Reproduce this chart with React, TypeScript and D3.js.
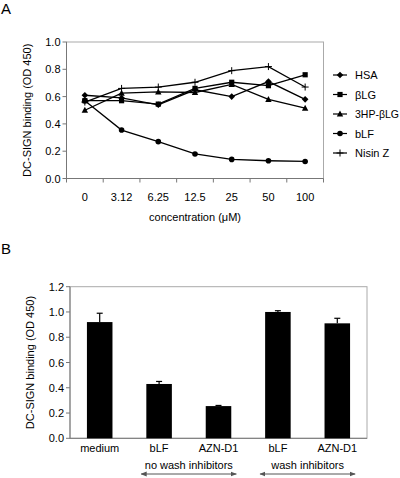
import React from "react";
import * as d3 from "d3";

const concentrations = ["0", "3.12", "6.25", "12.5", "25", "50", "100"];
const seriesNames = ["HSA", "βLG", "3HP-βLG", "bLF", "Nisin Z"];
const markerTypes = ["diamond", "square", "triangle", "circle", "plus"];
const hsa = [0.61, 0.59, 0.54, 0.65, 0.6, 0.71, 0.58];
const blg = [0.57, 0.57, 0.545, 0.66, 0.705, 0.68, 0.76];
const hpblg = [0.5, 0.625, 0.635, 0.63, 0.69, 0.58, 0.515];
const blf = [0.57, 0.355, 0.27, 0.18, 0.14, 0.13, 0.125];
const nisin = [0.56, 0.66, 0.67, 0.705, 0.79, 0.82, 0.67];
const seriesValues = [hsa, blg, hpblg, blf, nisin];
const yTicksA = [0, 0.2, 0.4, 0.6, 0.8, 1.0];

const barCategories = ["medium", "bLF", "AZN-D1", "bLF ", "AZN-D1 "];
const barLabels = ["medium", "bLF", "AZN-D1", "bLF", "AZN-D1"];
const barValues = [0.92, 0.43, 0.255, 1.0, 0.91];
const barErrors = [0.07, 0.02, 0.005, 0.01, 0.04];
const yTicksB = [0, 0.2, 0.4, 0.6, 0.8, 1.0, 1.2];
const groupLabels = ["no wash inhibitors", "wash inhibitors"];
const groupSpans = [["bLF", "AZN-D1"], ["bLF ", "AZN-D1 "]];

const FONT = "Liberation Sans, Arial, sans-serif";

function Marker({ type, x, y }: { type: string; x: number; y: number }) {
  if (type === "diamond") {
    const s = 3.3;
    return <path d={`M${x},${y - s}L${x + s},${y}L${x},${y + s}L${x - s},${y}Z`} fill="#000" />;
  }
  if (type === "square") return <rect x={x - 2.6} y={y - 2.6} width={5.2} height={5.2} fill="#000" />;
  if (type === "triangle") {
    return <path d={`M${x},${y - 3.4}L${x + 3.2},${y + 2.6}L${x - 3.2},${y + 2.6}Z`} fill="#000" />;
  }
  if (type === "circle") return <circle cx={x} cy={y} r={2.8} fill="#000" />;
  return (
    <path d={`M${x - 3.5},${y}L${x + 3.5},${y}M${x},${y - 3.5}L${x},${y + 3.5}`} stroke="#000" strokeWidth={1} />
  );
}

export default function App() {
  const aL = 66.5, aR = 323.5, aT = 42, aB = 178.5;
  const xA = d3.scaleBand().domain(concentrations).range([aL, aR]).padding(0);
  const yA = d3.scaleLinear().domain([0, 1]).range([aB, aT]);
  const line = d3
    .line<number>()
    .x((_, i) => (xA(concentrations[i]) as number) + xA.bandwidth() / 2)
    .y((d) => yA(d));

  const bL = 70, bR = 367, bT = 286.7, bB = 438.3;
  const xB = d3.scaleBand().domain(barCategories).range([bL, bR]).padding(0);
  const yB = d3.scaleLinear().domain([0, 1.2]).range([bB, bT]);
  const barW = xB.bandwidth() * 0.43;

  const axisColor = "#777";
  const boxColor = "#aaa";

  return (
    <svg width={400} height={478} style={{ position: "absolute", left: 0, top: 0, background: "#fff" }} fontFamily={FONT}>
      <rect x={0} y={0} width={400} height={478} fill="#fff" />
      <text x={1} y={14} fontSize={15}>A</text>
      <text x={1} y={254} fontSize={15}>B</text>

      <rect x={aL} y={aT} width={aR - aL} height={aB - aT} fill="none" stroke={boxColor} strokeWidth={1} />
      <line x1={aL} x2={aL} y1={aT} y2={aB} stroke={axisColor} />
      <line x1={aL} x2={aR} y1={aB} y2={aB} stroke={axisColor} />
      {yTicksA.map((t) => (
        <g key={t}>
          <line x1={aL - 4} x2={aL} y1={yA(t)} y2={yA(t)} stroke={axisColor} />
          <text x={aL - 6} y={yA(t) + 4} fontSize={11} textAnchor="end">{t.toFixed(1)}</text>
        </g>
      ))}
      {concentrations.map((c) => (
        <g key={c}>
          <line x1={xA(c) as number} x2={xA(c) as number} y1={aB} y2={aB + 4} stroke={axisColor} />
          <text x={(xA(c) as number) + xA.bandwidth() / 2} y={201} fontSize={11} textAnchor="middle">{c}</text>
        </g>
      ))}
      <line x1={aR} x2={aR} y1={aB} y2={aB + 4} stroke={axisColor} />
      <text x={(aL + aR) / 2} y={221} fontSize={11} textAnchor="middle">concentration (μM)</text>
      <text transform={`translate(31,${(aT + aB) / 2}) rotate(-90)`} fontSize={11} textAnchor="middle">DC-SIGN binding (OD 450)</text>
      {seriesValues.map((vals, si) => (
        <g key={si}>
          <path d={line(vals) || ""} fill="none" stroke="#000" strokeWidth={1.3} />
          {vals.map((v, i) => (
            <Marker key={i} type={markerTypes[si]} x={(xA(concentrations[i]) as number) + xA.bandwidth() / 2} y={yA(v)} />
          ))}
        </g>
      ))}
      {seriesNames.map((n, i) => {
        const ly = 75 + i * 19.5;
        return (
          <g key={n}>
            <line x1={333} x2={347} y1={ly} y2={ly} stroke="#000" strokeWidth={1.2} />
            <Marker type={markerTypes[i]} x={340} y={ly} />
            <text x={355} y={ly + 4} fontSize={11} textLength={n === "3HP-βLG" ? 44 : undefined} lengthAdjust="spacingAndGlyphs">{n}</text>
          </g>
        );
      })}

      <rect x={bL} y={bT} width={bR - bL} height={bB - bT} fill="none" stroke={boxColor} strokeWidth={1} />
      <line x1={bL} x2={bL} y1={bT} y2={bB} stroke={axisColor} />
      <line x1={bL} x2={bR} y1={bB} y2={bB} stroke={axisColor} />
      {yTicksB.map((t) => (
        <g key={t}>
          <line x1={bL - 4} x2={bL} y1={yB(t)} y2={yB(t)} stroke={axisColor} />
          <text x={bL - 6} y={yB(t) + 4} fontSize={11} textAnchor="end">{t.toFixed(1)}</text>
        </g>
      ))}
      {barCategories.map((c, i) => {
        const cx = (xB(c) as number) + xB.bandwidth() / 2;
        const top = yB(barValues[i]);
        const et = yB(barValues[i] + barErrors[i]);
        return (
          <g key={c}>
            <rect x={cx - barW / 2} y={top} width={barW} height={bB - top} fill="#000" />
            <line x1={cx} x2={cx} y1={top} y2={et} stroke="#000" strokeWidth={1.2} />
            <line x1={cx - 3} x2={cx + 3} y1={et} y2={et} stroke="#000" strokeWidth={1.2} />
            <text x={cx} y={452} fontSize={11} textAnchor="middle">{barLabels[i]}</text>
          </g>
        );
      })}
      <text transform={`translate(34,${(bT + bB) / 2}) rotate(-90)`} fontSize={11} textAnchor="middle">DC-SIGN binding (OD 450)</text>
      <defs>
        <marker id="arr" viewBox="0 0 10 10" refX={9} refY={5} markerWidth={6} markerHeight={6} orient="auto-start-reverse">
          <path d="M0,1L10,5L0,9Z" fill="#555" />
        </marker>
      </defs>
      {groupLabels.map((g, i) => {
        const x1 = (xB(groupSpans[i][0]) as number) + xB.bandwidth() * 0.2;
        const x2 = (xB(groupSpans[i][1]) as number) + xB.bandwidth() * 0.8;
        return (
          <g key={g}>
            <text x={(x1 + x2) / 2} y={469} fontSize={11} textAnchor="middle">{g}</text>
            <line x1={x1} x2={x2} y1={474} y2={474} stroke="#555" strokeWidth={1} markerStart="url(#arr)" markerEnd="url(#arr)" />
          </g>
        );
      })}
    </svg>
  );
}
